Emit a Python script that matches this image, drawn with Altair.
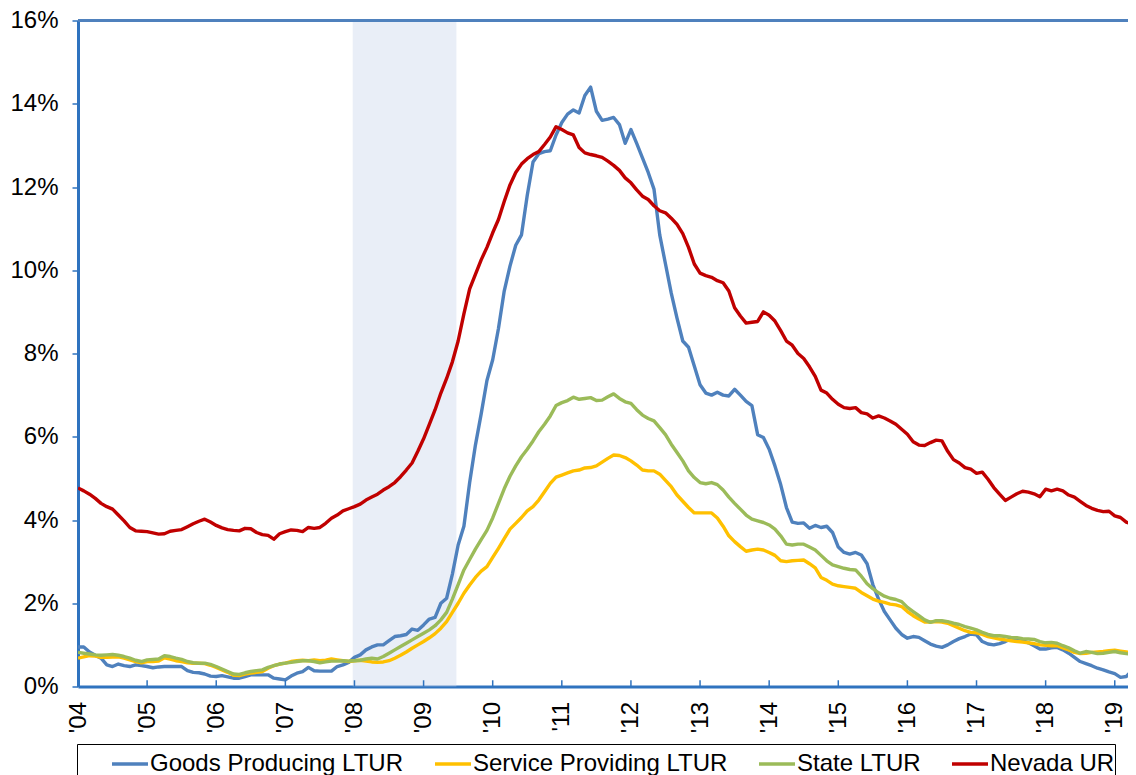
import json
import altair as alt
import pandas as pd

# ---------------- data (monthly, Jan 2004 .. May 2019) ----------------
series_names = ["Goods Producing LTUR", "Service Providing LTUR", "State LTUR", "Nevada UR"]
series_colors = ["#4F81BD", "#FFC000", "#9BBB59", "#C00000"]
year_labels = ["'04", "'05", "'06", "'07", "'08", "'09", "'10", "'11",
               "'12", "'13", "'14", "'15", "'16", "'17", "'18", "'19"]

goods = [
    0.95, 0.95, 0.83, 0.75, 0.68, 0.52, 0.48, 0.54, 0.50, 0.48, 0.52, 0.50,
    0.48, 0.45, 0.47, 0.48, 0.48, 0.48, 0.48, 0.38, 0.34, 0.33, 0.30, 0.25,
    0.24, 0.26, 0.23, 0.20, 0.20, 0.24, 0.28, 0.28, 0.28, 0.28, 0.20, 0.18,
    0.16, 0.25, 0.32, 0.36, 0.46, 0.38, 0.37, 0.37, 0.37, 0.48, 0.52, 0.58,
    0.70, 0.76, 0.88, 0.95, 1.00, 1.00, 1.10, 1.20, 1.22, 1.25, 1.38, 1.35,
    1.48, 1.62, 1.66, 2.00, 2.12, 2.70, 3.40, 3.85, 4.90, 5.80, 6.55, 7.35,
    7.85, 8.60, 9.50, 10.10, 10.60, 10.85, 11.80, 12.60, 12.80, 12.85, 12.87, 13.25,
    13.55, 13.75, 13.85, 13.78, 14.20, 14.40, 13.82, 13.60, 13.63, 13.67, 13.50, 13.05,
    13.38, 13.05, 12.70, 12.35, 11.95, 10.85, 10.15, 9.45, 8.85, 8.30, 8.15, 7.70,
    7.25, 7.05, 7.00, 7.07, 7.00, 6.98, 7.14, 7.00, 6.85, 6.75, 6.05, 5.98,
    5.70, 5.30, 4.85, 4.30, 3.95, 3.92, 3.93, 3.80, 3.87, 3.82, 3.85, 3.70,
    3.35, 3.22, 3.18, 3.22, 3.16, 2.95, 2.45, 2.10, 1.80, 1.60, 1.40, 1.25,
    1.16, 1.20, 1.18, 1.10, 1.02, 0.97, 0.94, 1.00, 1.08, 1.15, 1.20, 1.26,
    1.24, 1.08, 1.02, 1.00, 1.03, 1.08, 1.15, 1.16, 1.10, 1.05, 0.98, 0.90,
    0.90, 0.93, 0.94, 0.88, 0.80, 0.70, 0.60, 0.55, 0.50, 0.44, 0.40, 0.35,
    0.31, 0.22, 0.24, 0.38, 0.45,
]

service = [
    0.68, 0.71, 0.74, 0.73, 0.70, 0.70, 0.71, 0.71, 0.68, 0.64, 0.60, 0.57,
    0.60, 0.60, 0.61, 0.69, 0.66, 0.62, 0.60, 0.57, 0.56, 0.56, 0.55, 0.51,
    0.46, 0.40, 0.34, 0.27, 0.26, 0.30, 0.32, 0.34, 0.36, 0.44, 0.50, 0.54,
    0.56, 0.60, 0.62, 0.63, 0.62, 0.64, 0.62, 0.63, 0.66, 0.64, 0.62, 0.60,
    0.62, 0.63, 0.61, 0.59, 0.58, 0.59, 0.62, 0.68, 0.75, 0.83, 0.92, 1.00,
    1.08, 1.17, 1.27, 1.40, 1.56, 1.78, 2.00, 2.24, 2.44, 2.62, 2.77, 2.88,
    3.10, 3.32, 3.55, 3.78, 3.92, 4.06, 4.22, 4.32, 4.48, 4.68, 4.88, 5.03,
    5.08, 5.13, 5.18, 5.20, 5.25, 5.26, 5.30, 5.39, 5.48, 5.56, 5.55, 5.50,
    5.42, 5.32, 5.20, 5.18, 5.18, 5.10, 4.95, 4.80, 4.60, 4.45, 4.30, 4.17,
    4.17, 4.17, 4.17, 4.05, 3.85, 3.62, 3.48, 3.36, 3.25, 3.28, 3.30, 3.28,
    3.22, 3.15, 3.02, 3.00, 3.02, 3.03, 3.04, 2.95, 2.85, 2.62, 2.55, 2.46,
    2.42, 2.40, 2.38, 2.36, 2.26, 2.18, 2.10, 2.05, 2.02, 1.98, 1.96, 1.92,
    1.80, 1.70, 1.62, 1.55, 1.55, 1.56, 1.55, 1.52, 1.46, 1.40, 1.34, 1.30,
    1.29, 1.25, 1.20, 1.17, 1.14, 1.12, 1.10, 1.08, 1.07, 1.05, 1.03, 1.00,
    0.99, 0.98, 0.98, 0.93, 0.88, 0.82, 0.79, 0.80, 0.82, 0.83, 0.84, 0.86,
    0.87, 0.85, 0.83, 0.81, 0.80,
]

state = [
    0.82, 0.80, 0.78, 0.76, 0.75, 0.76, 0.77, 0.75, 0.72, 0.68, 0.63, 0.60,
    0.64, 0.65, 0.66, 0.74, 0.72, 0.68, 0.65, 0.60, 0.57, 0.56, 0.56, 0.53,
    0.48, 0.42, 0.36, 0.30, 0.29, 0.33, 0.36, 0.38, 0.40, 0.46, 0.50, 0.54,
    0.56, 0.58, 0.60, 0.62, 0.62, 0.60, 0.57, 0.59, 0.61, 0.61, 0.62, 0.61,
    0.62, 0.63, 0.66, 0.68, 0.66, 0.72, 0.80, 0.88, 0.96, 1.04, 1.12, 1.20,
    1.28, 1.36, 1.46, 1.60, 1.78, 2.10, 2.45, 2.80, 3.05, 3.30, 3.53, 3.75,
    4.05, 4.40, 4.75, 5.05, 5.30, 5.52, 5.70, 5.90, 6.12, 6.30, 6.50, 6.75,
    6.82, 6.87, 6.95, 6.90, 6.92, 6.94, 6.87, 6.88, 6.96, 7.03, 6.92, 6.84,
    6.80, 6.65, 6.52, 6.44, 6.38, 6.22, 6.05, 5.82, 5.62, 5.42, 5.18, 5.02,
    4.90, 4.87, 4.90, 4.85, 4.72, 4.55, 4.40, 4.26, 4.12, 4.02, 3.98, 3.94,
    3.88, 3.78, 3.62, 3.42, 3.40, 3.42, 3.42, 3.35, 3.28, 3.15, 3.02, 2.92,
    2.88, 2.84, 2.81, 2.80, 2.65, 2.47, 2.35, 2.25, 2.17, 2.12, 2.09, 2.04,
    1.90, 1.80, 1.70, 1.60, 1.54, 1.58, 1.58, 1.56, 1.52, 1.49, 1.44, 1.40,
    1.36, 1.30, 1.25, 1.22, 1.22, 1.20, 1.18, 1.17, 1.15, 1.14, 1.13, 1.08,
    1.05, 1.06, 1.04, 0.98, 0.93, 0.86, 0.80, 0.84, 0.82, 0.79, 0.80, 0.82,
    0.84, 0.81, 0.79, 0.77, 0.77,
]

nevada = [
    4.77, 4.70, 4.62, 4.52, 4.40, 4.32, 4.26, 4.12, 3.98, 3.82, 3.74, 3.73,
    3.72, 3.69, 3.66, 3.67, 3.73, 3.75, 3.77, 3.84, 3.91, 3.97, 4.02, 3.95,
    3.87, 3.81, 3.77, 3.75, 3.74, 3.80, 3.79, 3.70, 3.65, 3.63, 3.54, 3.67,
    3.72, 3.76, 3.75, 3.72, 3.82, 3.80, 3.82, 3.92, 4.04, 4.12, 4.22, 4.27,
    4.32, 4.38, 4.48, 4.55, 4.62, 4.72, 4.80, 4.90, 5.04, 5.20, 5.37, 5.65,
    5.95, 6.30, 6.65, 7.05, 7.40, 7.80, 8.30, 8.95, 9.55, 9.90, 10.25, 10.55,
    10.90, 11.22, 11.65, 12.05, 12.35, 12.55, 12.68, 12.78, 12.85, 13.02, 13.20, 13.45,
    13.38, 13.30, 13.25, 12.95, 12.82, 12.78, 12.75, 12.71, 12.62, 12.52, 12.40, 12.22,
    12.10, 11.93, 11.78, 11.70, 11.55, 11.43, 11.38, 11.25, 11.10, 10.88, 10.55, 10.15,
    9.93, 9.87, 9.83, 9.75, 9.70, 9.50, 9.10, 8.90, 8.73, 8.75, 8.77, 9.00,
    8.92, 8.78, 8.55, 8.30, 8.20, 8.00, 7.88, 7.68, 7.45, 7.12, 7.05, 6.90,
    6.78, 6.70, 6.68, 6.70, 6.58, 6.55, 6.45, 6.50, 6.45, 6.38, 6.30, 6.18,
    6.06, 5.88, 5.80, 5.79, 5.86, 5.92, 5.90, 5.65, 5.45, 5.37, 5.26, 5.22,
    5.12, 5.15, 4.98, 4.78, 4.62, 4.47, 4.55, 4.63, 4.69, 4.67, 4.63, 4.56,
    4.74, 4.70, 4.74, 4.70, 4.60, 4.55, 4.45, 4.35, 4.28, 4.23, 4.20, 4.21,
    4.10, 4.06, 3.95, 3.90, 3.95,
]

# recession (Dec 2007 - Jun 2009), in months since Jan 2004
recession_start = [47.7]
recession_end = [65.7]
year_ticks = list(range(0, 181, 12))

# ---------------- build tables ----------------
rows = []
for k, (name, vals) in enumerate(zip(series_names, [goods, service, state, nevada])):
    for i, v in enumerate(vals):
        rows.append({"month": i, "value": v, "series": name, "k": k})
df = pd.DataFrame(rows)

FONT = "Liberation Sans"
AXIS_COL = "#2F73BF"
GRID_COL = "#4F81BD"

x_scale = alt.Scale(domain=[0, 182.3], nice=False, zero=False)
y_scale = alt.Scale(domain=[0, 16], nice=False, zero=True)

x_axis = alt.Axis(
    values=year_ticks,
    labelExpr=json.dumps(year_labels) + "[round(datum.value / 12)]",
    labelAngle=270, labelFontSize=24, labelFont=FONT, labelColor="black",
    labelPadding=15, labelFlush=False, labelOverlap=False,
    ticks=False, tickSize=0, grid=False,
    domainColor=AXIS_COL, domainWidth=3, title=None,
)
y_axis = alt.Axis(
    values=list(range(0, 17, 2)),
    labelExpr="datum.value + '%'",
    labelFontSize=24, labelFont=FONT, labelColor="black", labelPadding=14,
    tickSize=6, tickColor=AXIS_COL, tickWidth=1.5,
    domainColor=AXIS_COL, domainWidth=3,
    gridColor=GRID_COL, gridWidth=1.3, title=None,
)

rec = alt.Chart(pd.DataFrame({"start": recession_start, "end": recession_end})).mark_rect(
    color="#C9D5EC", opacity=0.4
).encode(
    x=alt.X("start:Q", scale=x_scale, axis=x_axis),
    x2="end:Q",
    y=alt.datum(0, scale=y_scale, axis=y_axis),
    y2=alt.datum(16),
)

lines = alt.Chart(df).mark_line(strokeWidth=3.4, clip=True, strokeJoin="round").encode(
    x=alt.X("month:Q", scale=x_scale, axis=x_axis),
    y=alt.Y("value:Q", scale=y_scale, axis=y_axis),
    color=alt.Color(
        "series:N",
        scale=alt.Scale(domain=series_names, range=series_colors),
        legend=alt.Legend(
            orient="none", legendX=-1, legendY=723.5,
            direction="horizontal", columns=4, columnPadding=24,
            symbolType="stroke", symbolSize=1296, symbolStrokeWidth=3.5,
            labelFontSize=24, labelFont=FONT, labelColor="black",
            labelLimit=600, labelOffset=0,
            strokeColor="black", fillColor="white", padding=0,
            title=" ", titleOrient="left", titlePadding=33, titleFontSize=1,
        ),
    ),
    order=alt.Order("month:Q"),
    detail="k:N",
)

top = alt.Chart(pd.DataFrame({"top": [16]})).mark_rule(
    color="#4F81BD", strokeWidth=3
).encode(y=alt.Y("top:Q", scale=y_scale, axis=y_axis))

ticks = alt.Chart(pd.DataFrame({"tick": year_ticks[1:]})).mark_rule(
    color=AXIS_COL, strokeWidth=1.5
).encode(
    x=alt.X("tick:Q", scale=x_scale, axis=x_axis),
    y=alt.datum(0),
    y2=alt.datum(0.15),
)

chart = alt.layer(rec, lines, top, ticks).properties(
    width=1050, height=666,
    padding={"left": 70, "top": 12.5, "right": 0, "bottom": 100},
    autosize="none",
    background="white",
).configure_view(stroke=None)

chart.save("out.html", embed_options={"renderer": "svg", "actions": False})
